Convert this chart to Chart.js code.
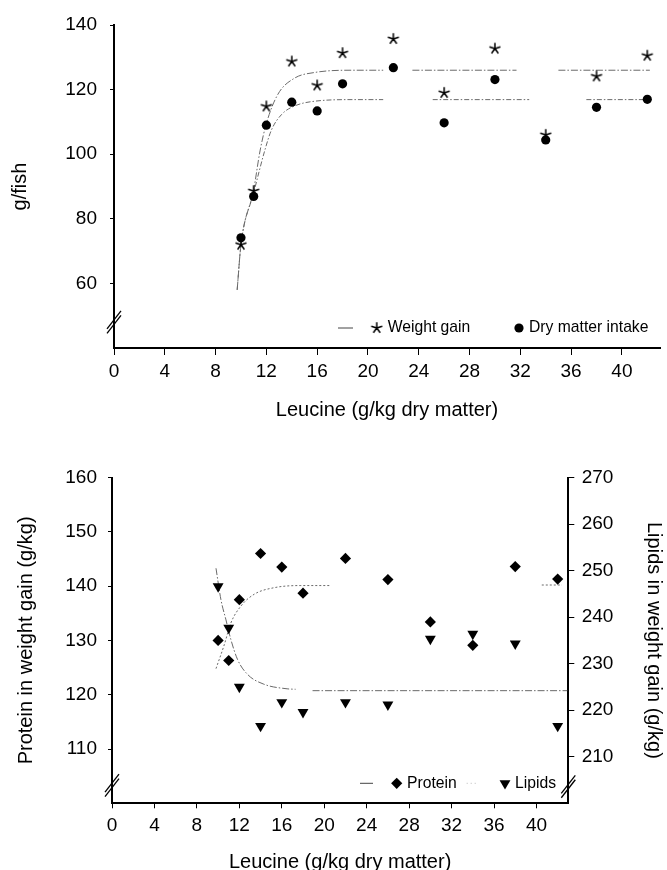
<!DOCTYPE html>
<html>
<head>
<meta charset="utf-8">
<script src="https://cdn.jsdelivr.net/npm/chart.js@4.4.1/dist/chart.umd.min.js"></script>
<style>
html,body{margin:0;padding:0;background:#fff;overflow:hidden;width:667px;height:870px;}
canvas{position:absolute;left:0;}
#c1{top:0;}
#c2{top:420px;}
</style>
</head>
<body>
<canvas id="c1" width="667" height="422"></canvas>
<canvas id="c2" width="667" height="454"></canvas>
<script>
// ---------- data ----------
const leucine = [10, 11, 12, 14, 16, 18, 22, 26, 30, 34, 38, 42];
const weightGain = [72, 88.6, 114.8, 128.7, 121.3, 131.3, 135.7, 119, 132.7, 106, 124.1, 130.5];
const dryMatterIntake = [74.1, 86.9, 109, 116.1, 113.4, 121.8, 126.8, 109.7, 123.1, 104.4, 114.5, 117];
const protein = [130, 126.3, 137.5, 146, 143.5, 138.7, 145.1, 141.2, 133.4, 129.1, 143.6, 141.3];
const lipids = [246.6, 237.7, 225, 216.6, 221.7, 219.6, 221.7, 221.2, 235.3, 236.4, 234.3, 216.6];

// fitted curves (null = gap in the printed line)
const wgFitX = [9.7, 10.0, 11.0, 11.5, 12.0, 12.9, 14.2, 15.8, 18.9, 21.2, 22.4, 23.5, 31.7, 33.4, 35.0, 42.2];
const wgFitY = [58, 72, 89, 101, 109.5, 118.5, 123.5, 125.3, 126, 126, null, 126, 126, null, 126, 126];
const dmFitX = [9.7, 10.0, 11.0, 11.9, 12.4, 13.2, 14.2, 15.8, 18.9, 21.2, 23.0, 25.1, 32.7, 35.0, 37.2, 42.2];
const dmFitY = [58, 72, 88, 101.5, 107.5, 112.3, 114.9, 116.4, 116.9, 116.9, null, 116.9, 116.9, null, 116.9, 116.9];
const protFitX = [9.8, 10.58, 11.2, 12.14, 13.4, 15.26, 17.8, 20.6, 30, 40.5, 42.4];
const protFitY = [124.8, 129.2, 133.2, 136.3, 138.5, 139.7, 140.1, 140.1, null, 140.2, 140.2];
const lipFitX = [9.8, 10.27, 10.74, 11.2, 11.83, 12.77, 14.3, 16.5, 17.3, 18.1, 18.9, 42.9];
const lipFitY = [250.5, 243.7, 239.4, 235.2, 230.9, 227.7, 225.6, 224.6, 224.5, null, 224.2, 224.2];

// tick labels
const xTickValues = [0, 4, 8, 12, 16, 20, 24, 28, 32, 36, 40];
const gTickValues = [60, 80, 100, 120, 140];
const proteinTickValues = [110, 120, 130, 140, 150, 160];
const lipidTickValues = [210, 220, 230, 240, 250, 260, 270];

// ---------- helpers ----------
const pts = (xs, ys) => xs.map((x, i) => ({x: x, y: ys[i]}));
const FONT = '"Liberation Sans", Arial, Helvetica, sans-serif';
Chart.defaults.font.family = FONT;
Chart.defaults.color = '#000';

function makeStar() {
  const c = document.createElement('canvas');
  c.width = 14; c.height = 14;
  const g = c.getContext('2d');
  g.strokeStyle = '#000'; g.lineWidth = 1.5;
  g.beginPath();
  for (let k = 0; k < 5; k++) {
    const a = -Math.PI / 2 + k * 2 * Math.PI / 5;
    g.moveTo(7, 7);
    g.lineTo(7 + 5.8 * Math.cos(a), 7 + 5.8 * Math.sin(a));
  }
  g.stroke();
  return c;
}
const starImg = makeStar();

const FIT_COLOR = '#6a6a6a';
const FIT_DASH = [7, 2, 1.5, 2];

function marker(ctx, ds, x, y) {
  ctx.save();
  ctx.fillStyle = '#000';
  ctx.strokeStyle = '#000';
  if (Chart.helpers && Chart.helpers.drawPoint) {
    Chart.helpers.drawPoint(ctx, {pointStyle: ds.pointStyle, radius: ds.pointRadius, rotation: ds.rotation || 0, borderWidth: 0}, x, y);
  }
  ctx.restore();
}

const inLegend = {
  id: 'inLegend',
  afterDraw(chart, args, opts) {
    if (!opts || !opts.items) return;
    const {ctx, chartArea} = chart;
    const y = chartArea.bottom - opts.dy;
    ctx.save();
    ctx.font = opts.fontSize + 'px ' + FONT;
    ctx.textBaseline = 'middle';
    ctx.textAlign = 'left';
    opts.items.forEach(it => {
      const ds = chart.data.datasets[it.ds];
      if (it.line) {
        ctx.save();
        ctx.strokeStyle = it.lineColor;
        ctx.lineWidth = 1;
        ctx.setLineDash(it.lineDash || []);
        ctx.beginPath();
        ctx.moveTo(chartArea.right - it.line[0], y);
        ctx.lineTo(chartArea.right - it.line[1], y);
        ctx.stroke();
        ctx.restore();
      }
      marker(ctx, ds, chartArea.right - it.mark, y);
      ctx.fillStyle = '#000';
      ctx.fillText(ds.label, chartArea.right - it.text, y);
    });
    ctx.restore();
  }
};

const axisBreak = {
  id: 'axisBreak',
  afterDraw(chart, args, opts) {
    if (!opts || !opts.marks) return;
    const ctx = chart.ctx;
    ctx.save();
    ctx.strokeStyle = '#000';
    ctx.lineWidth = 1.3;
    opts.marks.forEach(m => {
      const sc = chart.scales[m.scale];
      const y = sc.getPixelForValue(m.value);
      const x = sc.position === 'right' ? sc.left : sc.right;
      [-2.2, 2.2].forEach(o => {
        ctx.beginPath();
        ctx.moveTo(x - 7, y + 9 + o);
        ctx.lineTo(x + 7, y - 9 + o);
        ctx.stroke();
      });
    });
    ctx.restore();
  }
};

function ticksFrom(values) {
  return (s) => { s.ticks = values.map(v => ({value: v})); };
}
function fixWidth(w) { return (s) => { s.width = w; }; }
function fixHeight(h) { return (s) => { s.height = h; }; }

const gridTicks = (len) => ({display: true, drawOnChartArea: false, drawTicks: true, tickLength: len, color: '#000', lineWidth: 1});

// ---------- top chart ----------
new Chart(document.getElementById('c1'), {
  type: 'scatter',
  data: {
    datasets: [
      {label: 'Weight gain', data: pts(leucine, weightGain), pointStyle: starImg, pointRadius: 6, showLine: false},
      {label: 'Dry matter intake', data: pts(leucine, dryMatterIntake), pointStyle: 'circle', pointRadius: 4.6, pointBackgroundColor: '#000', pointBorderWidth: 0, showLine: false},
      {label: 'fit WG', data: pts(wgFitX, wgFitY), showLine: true, pointRadius: 0, borderColor: FIT_COLOR, borderWidth: 1, borderDash: FIT_DASH, cubicInterpolationMode: 'monotone', spanGaps: false},
      {label: 'fit DM', data: pts(dmFitX, dmFitY), showLine: true, pointRadius: 0, borderColor: FIT_COLOR, borderWidth: 1, borderDash: [5, 2, 1.5, 2], cubicInterpolationMode: 'monotone', spanGaps: false}
    ]
  },
  options: {
    responsive: false,
    animation: false,
    events: [],
    layout: {padding: {top: 25, left: 0, right: 2, bottom: 0}},
    plugins: {
      legend: {display: false},
      tooltip: {enabled: false},
      inLegend: {
        fontSize: 15.7, dy: 20,
        items: [
          {ds: 0, line: [322, 307], lineColor: '#444', mark: 283.3, text: 272.3},
          {ds: 1, mark: 141, text: 131}
        ]
      },
      axisBreak: {marks: [{scale: 'y', value: 48}]}
    },
    scales: {
      x: {
        type: 'linear', position: 'bottom', min: 0, max: 43,
        afterBuildTicks: ticksFrom(xTickValues),
        afterFit: fixHeight(74),
        border: {display: true, color: '#000', width: 2},
        grid: gridTicks(7),
        ticks: {font: {size: 19}, padding: 5.5, maxRotation: 0},
        title: {display: true, text: 'Leucine (g/kg dry matter)', font: {size: 20}, padding: {top: 0, bottom: 0}}
      },
      y: {
        type: 'linear', position: 'left', min: 40, max: 140,
        afterBuildTicks: ticksFrom(gTickValues),
        afterFit: fixWidth(114),
        border: {display: true, color: '#000', width: 2},
        grid: gridTicks(4),
        ticks: {font: {size: 19}, padding: 13},
        title: {display: true, text: 'g/fish', font: {size: 20}, padding: {top: 8, bottom: 0}}
      }
    }
  },
  plugins: [inLegend, axisBreak]
});

// ---------- bottom chart ----------
new Chart(document.getElementById('c2'), {
  type: 'scatter',
  data: {
    datasets: [
      {label: 'Protein', data: pts(leucine, protein), yAxisID: 'yL', pointStyle: 'rectRot', pointRadius: 5.6, pointBackgroundColor: '#000', pointBorderWidth: 0, showLine: false},
      {label: 'Lipids', data: pts(leucine, lipids), yAxisID: 'yR', pointStyle: 'triangle', rotation: 180, pointRotation: 180, pointRadius: 6.3, pointBackgroundColor: '#000', pointBorderWidth: 0, showLine: false},
      {label: 'fit protein', data: pts(protFitX, protFitY), yAxisID: 'yL', showLine: true, pointRadius: 0, borderColor: FIT_COLOR, borderWidth: 1, borderDash: [2, 2], cubicInterpolationMode: 'monotone', spanGaps: false},
      {label: 'fit lipids', data: pts(lipFitX, lipFitY), yAxisID: 'yR', showLine: true, pointRadius: 0, borderColor: FIT_COLOR, borderWidth: 1, borderDash: FIT_DASH, cubicInterpolationMode: 'monotone', spanGaps: false}
    ]
  },
  options: {
    responsive: false,
    animation: false,
    events: [],
    layout: {padding: {top: 57.5, left: 0, right: 0, bottom: 0}},
    plugins: {
      legend: {display: false},
      tooltip: {enabled: false},
      inLegend: {
        fontSize: 15.7, dy: 20,
        items: [
          {ds: 0, line: [208.3, 195.3], lineColor: '#444', mark: 171.6, text: 161.3},
          {ds: 1, line: [101.6, 91.6], lineColor: '#bbb', lineDash: [1, 3], mark: 63.3, text: 53.3}
        ]
      },
      axisBreak: {marks: [{scale: 'yL', value: 103.3}, {scale: 'yR', value: 203.6}]}
    },
    scales: {
      x: {
        type: 'linear', position: 'bottom', min: 0, max: 43,
        afterBuildTicks: ticksFrom(xTickValues),
        afterFit: fixHeight(70.7),
        border: {display: true, color: '#000', width: 2},
        grid: gridTicks(5),
        ticks: {font: {size: 19}, padding: 6.4, maxRotation: 0},
        title: {display: true, text: 'Leucine (g/kg dry matter)', font: {size: 20}, padding: {top: 0, bottom: 0}}
      },
      yL: {
        type: 'linear', position: 'left', min: 100, max: 160,
        afterBuildTicks: ticksFrom(proteinTickValues),
        afterFit: fixWidth(112),
        border: {display: true, color: '#000', width: 2},
        grid: gridTicks(4),
        ticks: {font: {size: 19}, padding: 11},
        title: {display: true, text: 'Protein in weight gain (g/kg)', font: {size: 20}, padding: {top: 14.7, bottom: 0}}
      },
      yR: {
        type: 'linear', position: 'right', min: 200, max: 270,
        afterBuildTicks: ticksFrom(lipidTickValues),
        afterFit: fixWidth(98.7),
        border: {display: true, color: '#000', width: 2},
        grid: gridTicks(6),
        ticks: {font: {size: 19}, padding: 7.4},
        title: {display: true, text: 'Lipids in weight gain (g/kg)', font: {size: 20}, padding: {top: 1.7, bottom: 0}}
      }
    }
  },
  plugins: [inLegend, axisBreak]
});
</script>
</body>
</html>
